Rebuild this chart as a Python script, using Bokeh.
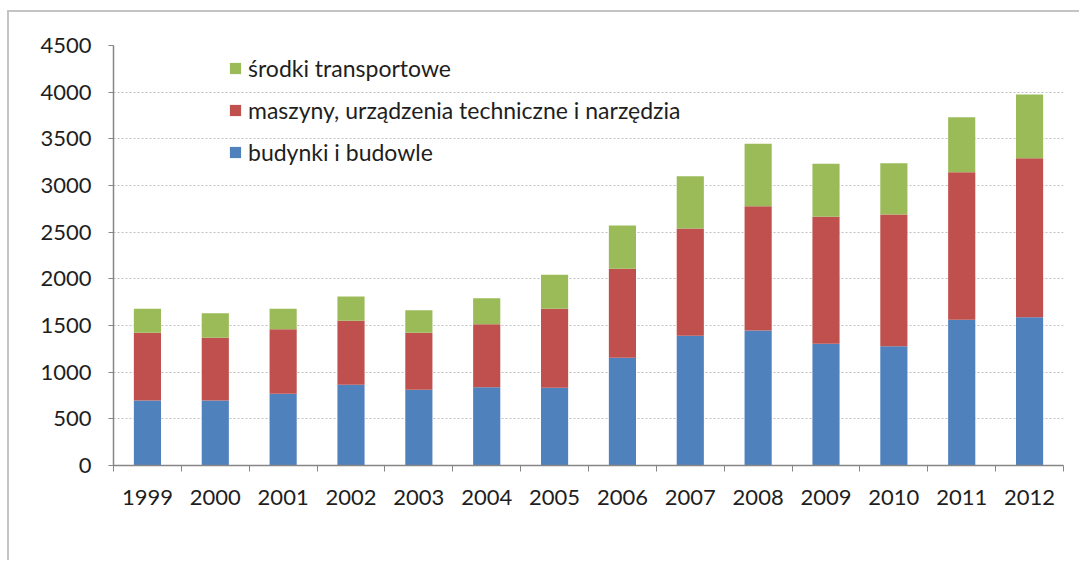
from bokeh.plotting import figure
from bokeh.models import (ColumnDataSource, Range1d, FixedTicker, CustomJSTickFormatter,
                          Legend, LegendItem)
from bokeh.embed import file_html
from bokeh.resources import INLINE

years = ["1999", "2000", "2001", "2002", "2003", "2004", "2005",
         "2006", "2007", "2008", "2009", "2010", "2011", "2012"]
budynki = [696, 696, 768, 864, 811, 839, 832, 1154, 1389, 1446, 1304, 1279, 1561, 1589]
maszyny = [726, 672, 693, 686, 611, 675, 847, 953, 1150, 1333, 1360, 1410, 1582, 1704]
srodki = [257, 264, 218, 261, 242, 279, 364, 464, 561, 667, 568, 550, 589, 682]
y_ticks = [0, 500, 1000, 1500, 2000, 2500, 3000, 3500, 4000, 4500]

series_names = ["budynki i budowle", "maszyny, urządzenia techniczne i narzędzia", "środki transportowe"]
colors = ["#4F81BD", "#C0504D", "#9BBB59"]

x = [i + 0.5 for i in range(len(years))]
source = ColumnDataSource(dict(x=x, budynki=budynki, maszyny=maszyny, srodki=srodki))

FONT = "Lato"
TEXT = "#1e1e1e"

p = figure(width=1072, height=550, output_backend="svg", toolbar_location=None,
           x_range=Range1d(0, len(years)), y_range=Range1d(0, 4500),
           min_border_left=104, min_border_right=18, min_border_top=33, min_border_bottom=97)
p.styles = {"border-top": "2px solid #c4c4c4", "border-left": "2px solid #c4c4c4",
            "margin-top": "10px", "margin-left": "7px"}
p.outline_line_color = None
p.background_fill_color = "white"
p.border_fill_color = "white"

renderers = p.vbar_stack(["budynki", "maszyny", "srodki"], x="x", width=0.4, source=source,
                         fill_color=colors, line_color=None)

# axes
xa = p.xaxis[0]
xa.ticker = FixedTicker(ticks=x, minor_ticks=list(range(len(years) + 1)))
xa.formatter = CustomJSTickFormatter(args=dict(years=years),
                                     code="return years[Math.floor(tick)];")
xa.major_tick_line_color = None
xa.minor_tick_line_color = "#868686"
xa.minor_tick_in = 0
xa.minor_tick_out = 6
xa.axis_line_color = "#868686"
xa.axis_line_width = 1.5
xa.major_label_standoff = 18
xa.major_label_text_font = FONT
xa.major_label_text_font_size = "22px"
xa.major_label_text_color = TEXT

ya = p.yaxis[0]
ya.ticker = FixedTicker(ticks=y_ticks)
ya.major_tick_line_color = "#868686"
ya.major_tick_in = 0
ya.major_tick_out = 5
ya.minor_tick_line_color = None
ya.axis_line_color = "#868686"
ya.axis_line_width = 1.5
ya.major_label_standoff = 17
ya.major_label_text_font = FONT
ya.major_label_text_font_size = "22px"
ya.major_label_text_color = TEXT

p.xgrid.grid_line_color = None
p.ygrid.ticker = FixedTicker(ticks=y_ticks[1:])
p.ygrid.grid_line_color = "#c0c0c0"
p.ygrid.grid_line_dash = "2 2"
p.ygrid.grid_line_width = 1

legend = Legend(items=[LegendItem(label=series_names[2], renderers=[renderers[2]]),
                       LegendItem(label=series_names[1], renderers=[renderers[1]]),
                       LegendItem(label=series_names[0], renderers=[renderers[0]])],
                location=(115, 299), orientation="vertical")
legend.background_fill_alpha = 0
legend.border_line_color = None
legend.padding = 0
legend.margin = 0
legend.spacing = 14
legend.glyph_width = 14
legend.glyph_height = 14
legend.label_height = 26
legend.label_standoff = 6
legend.label_text_font = FONT
legend.label_text_font_size = "23px"
legend.label_text_color = TEXT
p.add_layout(legend, "center")

open("out.html", "w").write(file_html(p, INLINE))
